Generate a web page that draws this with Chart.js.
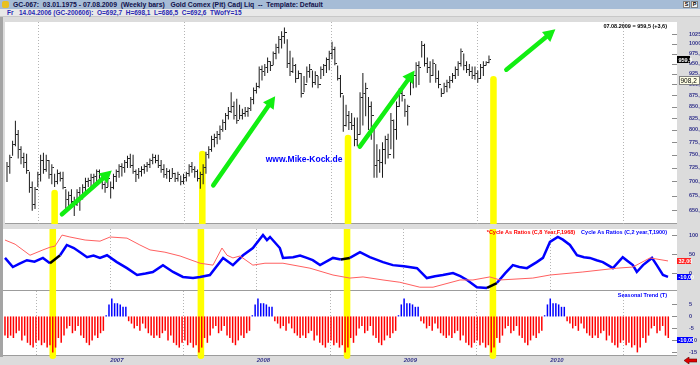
<!DOCTYPE html>
<html>
<head>
<meta charset="utf-8">
<script src="https://cdn.jsdelivr.net/npm/chart.js@4.4.1/dist/chart.umd.min.js"></script>
<style>
body { margin: 0; background: #fff; }
#wrap { position: relative; width: 700px; height: 365px; background: #dcdcdc; overflow: hidden;
        font-family: "Liberation Sans", Arial, sans-serif; }
#t1 { position: absolute; left: 0; top: 0; width: 700px; height: 9px; background: #a6bcd6;
      font-size: 6.8px; font-weight: bold; color: #10104a; line-height: 9px; white-space: pre; }
#t1 .txt { position: absolute; left: 13px; top: 0; }
#t1 .ico { position: absolute; left: 2px; top: 1px; width: 7px; height: 7px; background: #e8c020; border-radius: 2px; }
#t1 .btn { position: absolute; top: 1px; width: 7px; height: 7px; background: #f2f2f2; border: 1px solid #808080;
           box-sizing: border-box; font-size: 5.5px; line-height: 5px; text-align: center; color: #000; }
#t2 { position: absolute; left: 0; top: 9px; width: 700px; height: 8px; background: #e8e8e8; border-bottom: 1px solid #c8c8c8;
      box-sizing: border-box; font-size: 6.5px; font-weight: bold; color: #2828b4; line-height: 8px; white-space: pre; }
#t2 .txt { position: absolute; left: 7px; top: 0; }
#lb { position: absolute; left: 0; top: 17px; width: 3px; height: 340px; background: #a4a4a4; }
canvas { position: absolute; left: 0; }
#arrow { position: absolute; left: 684px; top: 357px; width: 13px; height: 7px; }
</style>
</head>
<body>
<div id="wrap">
  <div id="t1"><span class="ico"></span><span class="txt">GC-067:  03.01.1975 - 07.08.2009  (Weekly bars)   Gold Comex (Pit) Cadj Liq  --  Template: Default</span><span class="btn" style="left:683px">S</span><span class="btn" style="left:691px">P</span></div>
  <div id="t2"><span class="txt">Fr   14.04.2006 (GC-200606):  O=692,7  H=698,1  L=686,5  C=692,6  TWofY=15</span></div>
  <canvas id="priceChart" width="700" height="212" style="top:17px"></canvas>
  <canvas id="cycleChart" width="700" height="62" style="top:229px"></canvas>
  <canvas id="seasonChart" width="700" height="74" style="top:291px"></canvas>
  <div id="lb"></div>
  <svg id="arrow" viewBox="0 0 13 7"><polygon points="0,3.5 5,0 5,2 13,2 13,5 5,5 5,7" fill="#e00000" stroke="#600000" stroke-width="0.6"/></svg>
</div>
<script>
// weekly bars, week 0 = Fr 14.04.2006
var firstBar = Date.UTC(2006, 3, 14);
var yearLabels = ['2007', '2008', '2009', '2010'];

var priceHigh = [736,750,778,819,800,767,754,752,718,700, 690,718,750,754,750,740,732,714,722,718,
  718,686,682,686,673,686,690,695,707,707, 714,714,722,722,711,700,714,700,714,722,
  732,734,740,748,752,750,722,725,728,732, 736,743,752,750,750,740,732,725,722,725,
  716,718,711,714,718,732,736,728,722,718, 732,756,767,788,792,798,809,822,836,849,
  882,861,867,854,845,849,849,871,893,904, 943,945,949,965,956,980,1000,1020,1033,1043,
  1012,982,965,949,933,927,920,943,949,933, 931,920,943,949,965,982,1005,992,945,922,
  875,854,840,836,826,826,882,927,904,871, 861,809,771,761,775,788,792,836,822,861,
  891,891,867,854,920,927,953,956,1007,1000, 965,956,961,949,933,891,904,911,920,927,
  943,956,988,975,956,949,943,943,933,949, 956,956,970];
var priceLow = [699,714,748,767,743,732,725,714,680,649, 652,690,700,714,718,705,695,690,695,700,
  686,652,657,660,640,657,649,668,680,690, 686,690,699,700,686,680,690,670,686,699,
  707,709,716,725,725,714,699,705,709,714, 718,725,732,734,725,716,707,705,699,707,
  699,700,693,695,700,709,716,707,700,687, 695,714,743,756,765,771,780,796,800,822,
  836,822,813,822,822,828,828,840,855,879, 891,909,920,927,932,946,961,975,988,1000,
  939,920,927,904,913,870,882,904,916,893, 899,891,913,920,927,934,961,946,909,870,
  796,807,800,800,767,767,790,809,829,800, 780,707,707,716,707,732,743,761,743,780,
  849,861,828,809,875,891,893,899,965,943, 927,904,920,904,891,871,879,882,891,904,
  913,920,943,934,927,920,913,911,904,913, 920,945,951];
var priceClose = [728,745,770,790,760,745,735,720,690,660, 685,712,740,722,740,712,725,700,715,705,
  690,668,675,665,660,680,670,690,700,702, 708,710,718,705,695,690,705,690,710,718,
  728,725,735,742,730,718,712,718,722,728, 732,740,745,740,730,722,712,718,705,715,
  705,712,700,708,715,728,722,718,705,712, 725,750,760,780,785,790,800,815,830,840,
  850,830,820,830,835,840,845,865,885,895, 935,930,940,955,945,975,990,1010,1020,1030,
  950,930,945,915,925,880,900,930,935,905, 920,900,935,945,960,975,985,950,915,880,
  810,830,815,810,780,790,870,880,890,850, 830,730,740,735,760,780,750,820,800,850,
  880,875,840,850,910,920,945,940,995,950, 940,920,950,915,900,880,895,905,910,920,
  935,950,980,945,935,930,920,925,915,940, 945,952,959.5];
var priceTicks = [650,675,700,725,750,775,800,825,850,875,900,925,950,975,1000,1025];

// seasonal lows and trend arrows (week, price)
var yellowWeeks = [17, 69.7, 121.7, 173.6];
var yellowTops = [685, 758, 790, 920];
var arrowTails = [[19.6, 643], [73.6, 693], [125.9, 766], [178.2, 935]];
var arrowHeads = [[37.4, 720], [95.7, 873], [145.5, 933], [195.7, 1038]];

// Cycle As Ratios
var cycle8Weeks = [0,3.6,8.9,13.5,16,17.8,20.3,23.1,28.5,33.8,37.4,43.4,48,51.6,56.9,62.3,69.4,74,77.2,79,81.1,83.6,88.2,92.5,98.9,108.5,116.7,122.7,127.4,134.5,140.5,147.6,152.3,161.9,166.5,172.5,176.1,187.8,193.9,205.6,217.7,223.4,229.5,235.9];
var cycle8 = [87,76,47,61,68,71,100,95,87,84,95,92,74,61,55,45,26,21,66,47,40,45,21,26,26,13,-5,-13,-10,-18,-24,-37,-37,-18,-18,-10,-18,-13,-5,3,13,16,40,32];
var cycle2Weeks = [0,2.8,5,7.8,10.5,13.5,16,19.6,22,24.5,26.7,29.2,31.5,33.8,36.3,39.8,43.4,47,50,52.6,56.2,59.8,63.3,66.9,69.4,72.9,77.6,81.1,84.7,88.2,91.8,93.2,94.3,97.8,98.9,102.5,105,107.4,109.5,112.1,116.7,119.5,122.7,126.3,129.8,134.5,138,142,146.6,150.1,153,155.8,159.4,162,164.4,167.9,171.5,175,178,180.7,183,185.7,189.2,191.4,193.9,196.7,198.5,201,203.5,206,208.1,210.5,212.7,216.3,219.8,221.5,223.4,224.8,227,230.2,231.9,234.1,235.9];
var cycle2 = [40,16,24,34,30,40,26,47,74,66,55,42,46,40,47,29,13,-5,-1,3,21,3,-10,-13,-10,-5,40,21,47,66,100,87,95,66,40,42,46,40,34,21,40,36,40,55,42,29,21,18,13,-13,-8,-5,0,-8,-18,-37,-39,-26,0,21,16,13,29,40,82,95,88,74,47,42,40,34,29,13,42,32,21,3,21,40,21,-5,-10];
var cycleTicks = [100, 50, 0];

// Seasonal Trend (T), one value per week
var seasonal = [-8,-9,-8,-9,-7,-6,-10,-8,-11,-12,-13,-11,-10,-12,-11,-13,-12,-15,-13,-9,-11,-8,-5,-4,-7,-6,-4,-8,-9,-11,-12,-10,-8,-9,-7,-6,0.5,5,7.5,5.5,5.5,5,4,4,-2,-3,-5,-4,-6,-3,-5,-7,
  -8,-9,-8,-9,-7,-6,-10,-8,-11,-12,-13,-11,-10,-12,-11,-13,-12,-15,-13,-9,-11,-8,-5,-4,-7,-6,-4,-8,-9,-11,-12,-10,-8,-9,-7,-6,0.5,5,7.5,5.5,5.5,5,4,4,-2,-3,-5,-4,-6,-3,-5,-7,
  -8,-9,-8,-9,-7,-6,-10,-8,-11,-12,-13,-11,-10,-12,-11,-13,-12,-15,-13,-9,-11,-8,-5,-4,-7,-6,-4,-8,-9,-11,-12,-10,-8,-9,-7,-6,0.5,5,7.5,5.5,5.5,5,4,4,-2,-3,-5,-4,-6,-3,-5,-7,
  -8,-9,-8,-9,-7,-6,-10,-8,-11,-12,-13,-11,-10,-12,-11,-13,-12,-15,-13,-9,-11,-8,-5,-4,-7,-6,-4,-8,-9,-11,-12,-10,-8,-9,-7,-6,0.5,5,7.5,5.5,5.5,5,4,4,-2,-3,-5,-4,-6,-3,-5,-7,
  -8,-9,-8,-9,-7,-6,-10,-8,-11,-12,-13,-11,-10,-12,-11,-13,-12,-15,-13,-9,-11,-8,-5,-4,-7,-6,-4,-8,-9];
var seasonalTicks = [5, 0, -5, -10, -15];

var X_MIN = -0.71, X_MAX = 239.1;
var FONT = 'Liberation Sans';
var AXIS_BLUE = '#34348c';

var yearWeeks = yearLabels.map(function (y) {
  return (Date.UTC(+y, 0, 1) - firstBar) / (7 * 864e5);
});

function comma(v, d) { return v.toFixed(d).replace('.', ','); }

function xAxis(showLabels) {
  return {
    type: 'linear', min: X_MIN, max: X_MAX, offset: false,
    afterBuildTicks: function (s) { s.ticks = yearWeeks.map(function (v) { return { value: v }; }); },
    afterFit: function (s) { s.height = showLabels ? 9 : 0; s.paddingLeft = 0; s.paddingRight = 0; },
    grid: { color: '#b4b4b4', drawTicks: false, lineWidth: 1 },
    border: { display: false, dash: [1, 2] },
    ticks: {
      display: showLabels, align: 'start', padding: 1, autoSkip: false, maxRotation: 0,
      color: AXIS_BLUE, font: { family: FONT, size: 6, weight: 'bold', style: 'italic' },
      callback: function (v, i) { return yearLabels[i]; }
    }
  };
}

function yAxis(extra) {
  var base = {
    position: 'right',
    afterFit: function (s) { s.width = 23; s.paddingTop = 0; s.paddingBottom = 0; },
    grid: { display: false },
    border: { display: false }
  };
  for (var k in extra) base[k] = extra[k];
  return base;
}

var tickFont = { family: FONT, size: 5.5, weight: 'bold' };

function inYellow(w) {
  for (var i = 0; i < yellowWeeks.length; i++) if (Math.abs(w - yellowWeeks[i]) <= 1.2) return true;
  return false;
}

// white plot area, separator line, tick marks on the inside of the right edge
var panelPlugin = {
  id: 'panel',
  beforeDraw: function (chart) {
    var a = chart.chartArea, ctx = chart.ctx;
    ctx.save();
    ctx.fillStyle = '#fff';
    ctx.fillRect(a.left, a.top, a.right - a.left, a.bottom - a.top);
    ctx.strokeStyle = '#9c9c9c';
    ctx.lineWidth = 1;
    ctx.beginPath();
    ctx.moveTo(a.left, a.bottom - 0.5); ctx.lineTo(a.right, a.bottom - 0.5);
    ctx.stroke();
    ctx.restore();
  },
  afterDraw: function (chart) {
    var a = chart.chartArea, ctx = chart.ctx, y = chart.scales.y;
    ctx.save();
    ctx.strokeStyle = '#8c8c8c';
    ctx.lineWidth = 1;
    y.ticks.forEach(function (t) {
      var py = Math.round(y.getPixelForValue(t.value)) + 0.5;
      ctx.beginPath(); ctx.moveTo(a.right - 5, py); ctx.lineTo(a.right, py); ctx.stroke();
    });
    ctx.restore();
  }
};

// yellow seasonal-low markers
var yellowPlugin = {
  id: 'yellow',
  beforeDatasetsDraw: function (chart, args, opts) {
    var a = chart.chartArea, ctx = chart.ctx, x = chart.scales.x, y = chart.scales.y;
    ctx.save();
    ctx.fillStyle = '#ffff00';
    yellowWeeks.forEach(function (w, k) {
      var cx = x.getPixelForValue(w);
      var hw = (x.getPixelForValue(w + 1.17) - x.getPixelForValue(w - 1.17)) / 2;
      var top = opts.tops ? y.getPixelForValue(yellowTops[k]) : a.top;
      var bottom = a.bottom + (opts.tail || 0);
      ctx.beginPath();
      if (opts.tops) {
        ctx.moveTo(cx - hw, bottom);
        ctx.lineTo(cx - hw, top + hw);
        ctx.arc(cx, top + hw, hw, Math.PI, 0);
        ctx.lineTo(cx + hw, bottom);
      } else if (opts.tail) {
        ctx.moveTo(cx - hw, top);
        ctx.lineTo(cx - hw, bottom - hw);
        ctx.arc(cx, bottom - hw, hw, Math.PI, 0, true);
        ctx.lineTo(cx + hw, top);
      } else {
        ctx.rect(cx - hw, top, 2 * hw, bottom - top);
      }
      ctx.closePath();
      ctx.fill();
    });
    ctx.restore();
  }
};

function box(ctx, x, yc, w, h, bg, fg, text, border, font) {
  ctx.fillStyle = bg;
  ctx.fillRect(x, Math.round(yc - h / 2), w, h);
  if (border) { ctx.strokeStyle = border; ctx.strokeRect(x + 0.5, Math.round(yc - h / 2) + 0.5, w - 1, h - 1); }
  ctx.fillStyle = fg;
  ctx.font = font || ('bold 5.5px ' + FONT);
  ctx.textAlign = 'left';
  ctx.textBaseline = 'middle';
  ctx.fillText(text, x + 1.5, yc + 0.5);
}

var priceExtras = {
  id: 'priceExtras',
  afterDatasetsDraw: function (chart) {
    var ctx = chart.ctx, x = chart.scales.x, y = chart.scales.y;
    ctx.save();
    ctx.fillStyle = ctx.strokeStyle = '#11ee11';
    arrowTails.forEach(function (t, k) {
      var h = arrowHeads[k];
      var x0 = x.getPixelForValue(t[0]), y0 = y.getPixelForValue(t[1]);
      var x1 = x.getPixelForValue(h[0]), y1 = y.getPixelForValue(h[1]);
      var ang = Math.atan2(y1 - y0, x1 - x0), L = 12, W = 6.5;
      var bx = x1 - L * Math.cos(ang), by = y1 - L * Math.sin(ang);
      ctx.lineWidth = 4.5; ctx.lineCap = 'round';
      ctx.beginPath(); ctx.moveTo(x0, y0); ctx.lineTo(bx, by); ctx.stroke();
      ctx.beginPath();
      ctx.moveTo(x1, y1);
      ctx.lineTo(bx + W * Math.sin(ang), by - W * Math.cos(ang));
      ctx.lineTo(bx - W * Math.sin(ang), by + W * Math.cos(ang));
      ctx.closePath(); ctx.fill();
    });
    ctx.fillStyle = '#0000ff';
    ctx.font = 'bold 8.5px ' + FONT;
    ctx.textAlign = 'center'; ctx.textBaseline = 'middle';
    ctx.fillText('www.Mike-Kock.de', x.getPixelForValue(106), y.getPixelForValue(740));
    ctx.restore();
  },
  afterDraw: function (chart) {
    var ctx = chart.ctx, a = chart.chartArea, y = chart.scales.y;
    var last = priceClose[priceClose.length - 1];
    ctx.save();
    ctx.fillStyle = '#000';
    ctx.font = 'bold 5.5px ' + FONT;
    ctx.textAlign = 'right'; ctx.textBaseline = 'middle';
    ctx.fillText('07.08.2009 = ' + comma(last, 1) + ' (+3,6)', a.right - 10, a.top + 4);
    box(ctx, a.right, y.getPixelForValue(last), 13, 7, '#000', '#fff', comma(last, 1));
    box(ctx, a.right + 2, y.getPixelForValue(908.2), 21, 9, '#ffffe4', '#000', '908,2', '#808080', '6.5px ' + FONT);
    ctx.restore();
  }
};

var cycleExtras = {
  id: 'cycleExtras',
  afterDraw: function (chart) {
    var ctx = chart.ctx, a = chart.chartArea, y = chart.scales.y;
    ctx.save();
    ctx.font = 'bold 5.5px ' + FONT;
    ctx.textBaseline = 'middle'; ctx.textAlign = 'right';
    ctx.fillStyle = '#0000ff';
    var t2 = 'Cycle As Ratios (C,2 year,T,1900)';
    ctx.fillText(t2, a.right - 10, a.top + 3);
    var w2 = ctx.measureText(t2).width;
    ctx.fillStyle = '#ff0000';
    ctx.fillText('*Cycle As Ratios (C,8 Year,F,1968)', a.right - 10 - w2 - 6, a.top + 3);
    var r = cycle8[cycle8.length - 1], b = cycle2[cycle2.length - 1];
    box(ctx, a.right, y.getPixelForValue(r), 14, 6, '#ff2020', '#fff', comma(r, 2));
    box(ctx, a.right, y.getPixelForValue(b), 14, 6, '#0000ff', '#fff', comma(b, 2));
    ctx.restore();
  }
};

var seasonExtras = {
  id: 'seasonExtras',
  afterDraw: function (chart) {
    var ctx = chart.ctx, a = chart.chartArea, y = chart.scales.y;
    ctx.save();
    ctx.font = 'bold 5.5px ' + FONT;
    ctx.textBaseline = 'middle'; ctx.textAlign = 'right';
    ctx.fillStyle = '#0000ff';
    ctx.fillText('Seasonal Trend (T)', a.right - 10, a.top + 4);
    box(ctx, a.right, y.getPixelForValue(-10), 16, 6, '#0000ff', '#fff', comma(-10, 2));
    ctx.restore();
  }
};

function closeTick() {
  var c = document.createElement('canvas');
  c.width = 5; c.height = 1;
  var g = c.getContext('2d');
  g.fillStyle = '#222';
  g.fillRect(3, 0, 2, 1);
  return c;
}

var common = {
  responsive: false, animation: false, events: [],
  layout: { padding: { left: 3, right: 0, top: 0, bottom: 0 } },
  plugins: { legend: { display: false }, tooltip: { enabled: false } }
};
function opts(scales, extra) {
  var o = JSON.parse(JSON.stringify(common));
  o.scales = scales;
  for (var k in extra) o.plugins[k] = extra[k];
  return o;
}

new Chart(document.getElementById('priceChart'), {
  type: 'bar',
  data: {
    datasets: [{
      type: 'bar',
      data: priceHigh.map(function (h, i) { return { x: i, y: [priceLow[i], h] }; }),
      backgroundColor: '#1a1a1a', barThickness: 1, borderWidth: 0, inflateAmount: 0
    }, {
      type: 'scatter',
      data: priceClose.map(function (c, i) { return { x: i, y: c }; }),
      pointStyle: closeTick(), pointRadius: 2
    }]
  },
  options: opts({
    x: xAxis(false),
    y: yAxis({
      type: 'logarithmic', min: 627, max: 1058,
      afterBuildTicks: function (s) { s.ticks = priceTicks.map(function (v) { return { value: v }; }); },
      ticks: { autoSkip: false, padding: 4, color: AXIS_BLUE, font: tickFont,
               callback: function (v) { return comma(v, 1); } }
    })
  }, { yellow: { tops: true } }),
  plugins: [panelPlugin, yellowPlugin, priceExtras]
});

new Chart(document.getElementById('cycleChart'), {
  type: 'line',
  data: {
    datasets: [{
      data: cycle8.map(function (v, i) { return { x: cycle8Weeks[i], y: v }; }),
      borderColor: '#ff6060', borderWidth: 1, pointRadius: 0
    }, {
      data: cycle2.map(function (v, i) { return { x: cycle2Weeks[i], y: v }; }),
      borderColor: '#0000ff', borderWidth: 2.5, pointRadius: 0,
      segment: { borderColor: function (c) { return inYellow((c.p0.parsed.x + c.p1.parsed.x) / 2) ? '#000' : '#0000ff'; } }
    }]
  },
  options: opts({
    x: xAxis(false),
    y: yAxis({
      type: 'linear', min: -47, max: 116,
      afterBuildTicks: function (s) { s.ticks = cycleTicks.map(function (v) { return { value: v }; }); },
      ticks: { autoSkip: false, padding: 4, color: AXIS_BLUE, font: tickFont }
    })
  }, { yellow: {} }),
  plugins: [panelPlugin, yellowPlugin, cycleExtras]
});

new Chart(document.getElementById('seasonChart'), {
  type: 'bar',
  data: {
    datasets: [{
      data: seasonal.map(function (v, i) { return { x: i, y: v }; }),
      backgroundColor: seasonal.map(function (v) { return v >= 0 ? '#0000ff' : '#ff0000'; }),
      barThickness: 1.5, borderWidth: 0, inflateAmount: 0
    }]
  },
  options: opts({
    x: xAxis(true),
    y: yAxis({
      type: 'linear', min: -16.5, max: 10.6,
      afterBuildTicks: function (s) { s.ticks = seasonalTicks.map(function (v) { return { value: v }; }); },
      ticks: { autoSkip: false, padding: 4, color: AXIS_BLUE, font: tickFont }
    })
  }, { yellow: { tail: 3 } }),
  plugins: [panelPlugin, yellowPlugin, seasonExtras]
});
</script>
</body>
</html>
